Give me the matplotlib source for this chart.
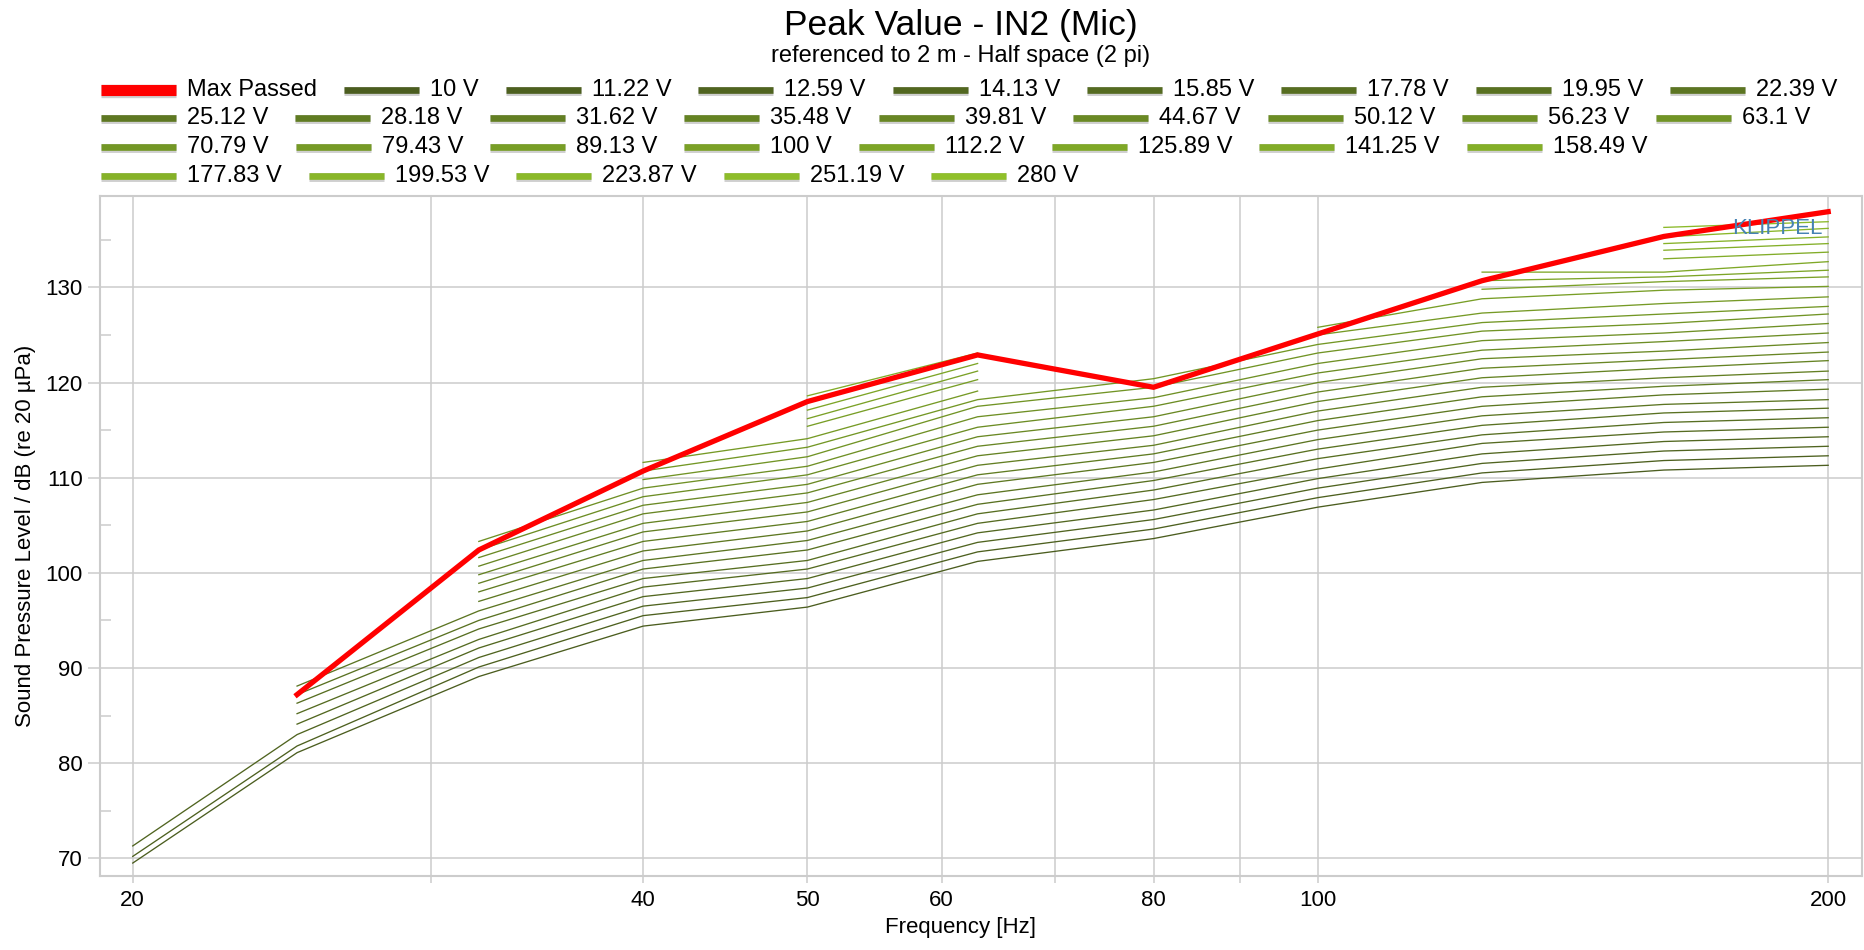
import matplotlib
matplotlib.use("Agg")
import matplotlib.pyplot as plt
import matplotlib.ticker as mticker
import numpy as np

plt.rcParams['font.family'] = ['Liberation Sans', 'DejaVu Sans']

# frequencies of the measured points [Hz]
FREQS = [20, 25, 32, 40, 50, 63, 80, 100, 125, 160, 200]

VOLTS = ["10", "11.22", "12.59", "14.13", "15.85", "17.78", "19.95", "22.39",
         "25.12", "28.18", "31.62", "35.48", "39.81", "44.67", "50.12", "56.23",
         "63.1", "70.79", "79.43", "89.13", "100", "112.2", "125.89", "141.25",
         "158.49", "177.83", "199.53", "223.87", "251.19", "280"]

# SPL per frequency, listed from the lowest voltage upwards [dB]
SPL_20 = [69.5, 70.2, 71.3]
SPL_25 = [81.1, 81.8, 83.0, 84.1, 85.2, 86.3, 87.2, 88.1]
SPL_32 = [89.1, 90.1, 91.1, 92.1, 93.0, 94.1, 95.0, 96.0, 97.0, 98.0, 98.9,
          99.8, 100.7, 101.6, 102.4, 103.3]
SPL_40 = [94.4, 95.5, 96.5, 97.5, 98.5, 99.4, 100.4, 101.3, 102.3, 103.3,
          104.3, 105.2, 106.2, 107.1, 108.0, 108.9, 109.8, 110.7, 111.6]
SPL_50 = [96.4, 97.4, 98.4, 99.4, 100.4, 101.3, 102.4, 103.4, 104.4, 105.4,
          106.4, 107.4, 108.4, 109.3, 110.3, 111.2, 112.2, 113.2, 114.1, 115.4,
          116.2, 117.1, 118.0, 118.6]
SPL_63 = [101.2, 102.2, 103.2, 104.2, 105.2, 106.2, 107.2, 108.2, 109.3, 110.3,
          111.3, 112.3, 113.3, 114.3, 115.3, 116.4, 117.5, 118.2, 119.1, 120.3,
          121.2, 122.0, 122.9, 123.1]
SPL_80 = [103.6, 104.6, 105.6, 106.6, 107.7, 108.7, 109.7, 110.6, 111.6, 112.5,
          113.4, 114.4, 115.4, 116.4, 117.5, 118.4, 119.5, 120.4]
SPL_100 = [106.9, 107.9, 108.9, 109.9, 110.9, 112.0, 113.0, 114.0, 115.0, 116.0,
           117.0, 118.0, 119.0, 120.0, 121.0, 122.0, 123.1, 124.0, 125.0, 125.8]
SPL_125 = [109.5, 110.5, 111.5, 112.5, 113.6, 114.5, 115.5, 116.5, 117.5, 118.5,
           119.5, 120.5, 121.5, 122.5, 123.4, 124.4, 125.4, 126.3, 127.3, 128.8,
           129.8, 130.7, 131.6]
SPL_160 = [110.8, 111.8, 112.8, 113.8, 114.8, 115.8, 116.8, 117.7, 118.7, 119.6,
           120.5, 121.5, 122.4, 123.3, 124.3, 125.2, 126.2, 127.2, 128.3, 129.7,
           130.6, 131.1, 131.6, 133.0, 133.9, 134.6, 135.3, 136.3]
SPL_200 = [111.3, 112.3, 113.3, 114.3, 115.3, 116.3, 117.3, 118.2, 119.3, 120.3,
           121.2, 122.3, 123.2, 124.2, 125.2, 126.2, 127.2, 128.0, 129.0, 130.1,
           131.1, 131.8, 132.7, 133.7, 134.6, 135.3, 136.2, 136.9]

MAX_PASSED = [np.nan, 87.2, 102.4, 110.7, 118.0, 122.9, 119.5, 125.1, 130.7,
              135.35, 137.95]

W, H = 1865, 950


def fx(x):
    return x / W


def fy(y):
    return 1 - y / H


def pad(vals, n):
    return vals + [np.nan] * (n - len(vals))


n = len(VOLTS)
columns = [SPL_20, SPL_25, SPL_32, SPL_40, SPL_50, SPL_63, SPL_80, SPL_100,
           SPL_125, SPL_160, SPL_200]
table = np.array([pad(c, n) for c in columns]).T   # rows: voltages

c0 = np.array([0x4b, 0x5d, 0x1f]) / 255
c1 = np.array([0x90, 0xc0, 0x2a]) / 255
colors = [tuple(c0 + (c1 - c0) * i / (n - 1)) for i in range(n)]

fig = plt.figure(figsize=(W / 100, H / 100), dpi=100)
ax = fig.add_axes([fx(100), fy(876), fx(1862 - 100), (876 - 196) / H])

for i in range(n):
    ax.plot(FREQS, table[i], color=colors[i], lw=0.95, zorder=3)
ax.plot(FREQS, MAX_PASSED, color="#ff0000", lw=3.8, zorder=5,
        solid_joinstyle="miter")

ax.set_xscale("log")
ax.set_xlim(19.13, 209.4)
ax.set_ylim(68.14, 139.6)

ax.xaxis.set_major_locator(mticker.FixedLocator([20, 30, 40, 50, 60, 70, 80, 90, 100, 200]))
ax.xaxis.set_major_formatter(mticker.FixedFormatter(["20", "", "40", "50", "60", "", "80", "", "100", "200"]))
ax.xaxis.set_minor_locator(mticker.NullLocator())
ax.yaxis.set_major_locator(mticker.MultipleLocator(10))
ax.yaxis.set_minor_locator(mticker.FixedLocator([75, 85, 95, 105, 115, 125, 135]))

ax.grid(True, which="major", color="#cccccc", lw=1.1, zorder=0)
ax.tick_params(axis="x", which="major", length=5, width=1.1, color="#cccccc",
               labelsize=16, pad=5)
ax.tick_params(axis="y", which="major", length=8.5, width=1.1, color="#cccccc",
               labelsize=16, pad=4)
ax.tick_params(axis="y", which="minor", direction="in", length=8, width=1.1,
               color="#cccccc")
for s in ax.spines.values():
    s.set_color("#cccccc")
    s.set_linewidth(1.5)

# watermark, placed in figure pixels (y counted from the top)
fig.text(fx(1823), fy(228), "KLIPPEL", fontsize=16, color="#4682b4",
         ha="right", va="center", zorder=2)

fig.text(fx(961), fy(25), "Peak Value - IN2 (Mic)", fontsize=25.5, ha="center", va="center")
fig.text(fx(961), fy(56), "referenced to 2 m - Half space (2 pi)", fontsize=17,
         ha="center", va="center")
fig.text(fx(961), fy(928), "Frequency [Hz]", fontsize=16, ha="center", va="center")
fig.text(fx(26), fy(536), "Sound Pressure Level / dB (re 20 µPa)", fontsize=16,
         rotation=90, ha="center", va="center")

# legend laid out row by row, like the original
labels = ["Max Passed"] + [v + " V" for v in VOLTS]
handle_colors = ["#ff0000"] + colors
row_sizes = [9, 9, 8, 5]
renderer = fig.canvas.get_renderer()
k = 0
row_y = 89.5
for size in row_sizes:
    x = 101
    for _ in range(size):
        lab, col = labels[k], handle_colors[k]
        lw = 8 if k == 0 else 4.8
        fig.add_artist(plt.Line2D([fx(x), fx(x + 75)], [fy(row_y + 1), fy(row_y + 1)],
                                  color="#cfcfcf", lw=lw + 1.6, solid_capstyle="butt"))
        fig.add_artist(plt.Line2D([fx(x), fx(x + 75)], [fy(row_y), fy(row_y)],
                                  color=col, lw=lw, solid_capstyle="butt"))
        t = fig.text(fx(x + 86), fy(row_y), lab, fontsize=17, ha="left", va="center")
        w = t.get_window_extent(renderer).width
        x += 75 + 11 + w + 27
        k += 1
    row_y += 28.7

fig.savefig("out.png", dpi=100)
